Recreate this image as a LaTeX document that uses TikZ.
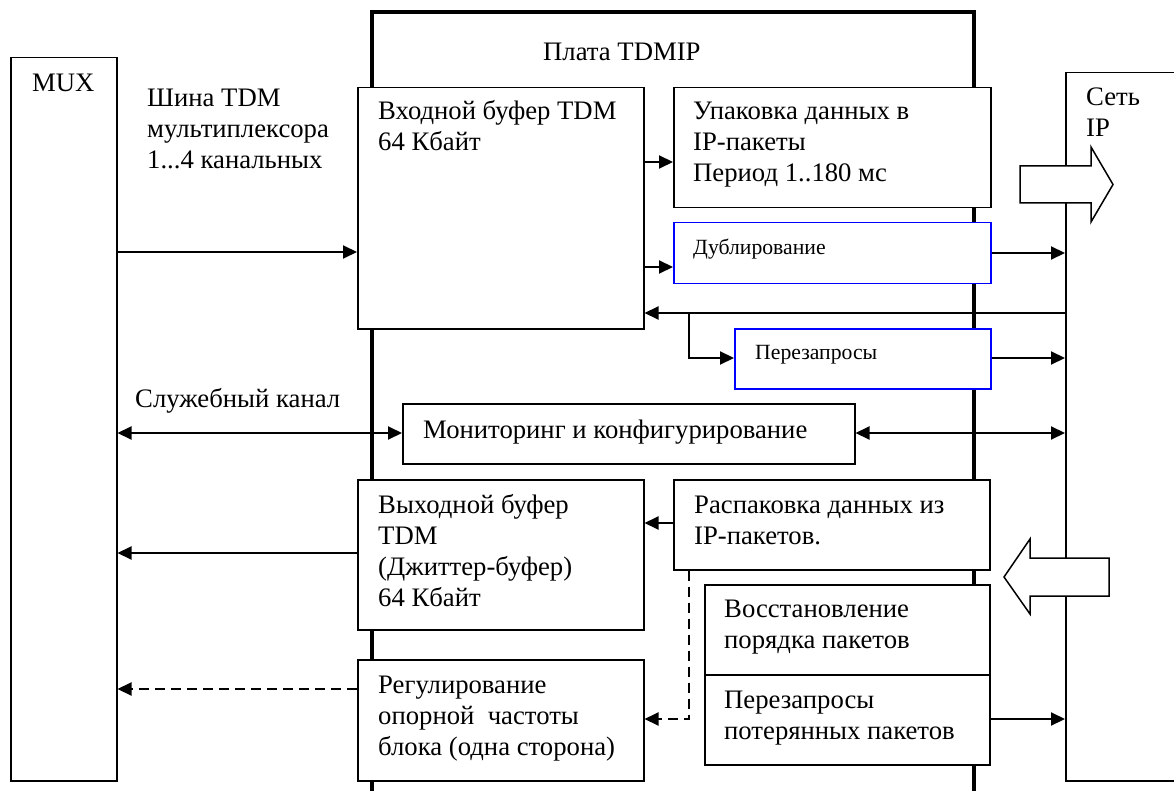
\documentclass[tikz,border=0pt]{standalone}
\usepackage{fontspec}
\setmainfont{Liberation Serif}
\usetikzlibrary{arrows.meta}
\begin{document}
\begin{tikzpicture}[x=1pt,y=-1pt,
  box/.style={draw, line width=1.5pt, fill=white, inner sep=0pt, anchor=north west},
  bbox/.style={box, draw=blue},
  txt/.style={font=\fontsize{26.7}{31}\selectfont, align=left, inner sep=0pt, anchor=base west},
  stxt/.style={font=\fontsize{21.7}{25}\selectfont, inner sep=0pt, anchor=base west},
  arr/.style={line width=2pt, -{Triangle[length=14pt,width=13pt]}},
  darr/.style={line width=2pt, {Triangle[length=14pt,width=13pt]}-{Triangle[length=14pt,width=13pt]}},
  dasharr/.style={arr, dash pattern=on 10pt off 6pt},
  board/.style={line width=4pt, line join=miter},
  hollow/.style={draw, line width=1.5pt, fill=white, line join=miter}
]
\useasboundingbox (0,0) rectangle (1174,791);
\fill[white] (0,0) rectangle (1174,791);

% TDMIP board
\draw[board] (372,791) -- (372,12) -- (974,12) -- (974,791);

% boxes
\node[box, minimum width=106pt, minimum height=723pt] (mux) at (10,57) {};
\node[box, minimum width=286pt, minimum height=241pt] (inbuf) at (357,87) {};
\node[box, minimum width=317pt, minimum height=120pt] (pack) at (673,87) {};
\node[bbox, minimum width=317pt, minimum height=61pt] (dup) at (673,222) {};
\node[bbox, minimum width=256pt, minimum height=60pt] (rq) at (734,328) {};
\node[box, minimum width=452pt, minimum height=60pt] (mon) at (402,403) {};
\node[box, minimum width=286pt, minimum height=150pt] (outbuf) at (357,479) {};
\node[box, minimum width=316pt, minimum height=90pt] (unpack) at (673,479) {};
\node[box, minimum width=285pt, minimum height=90pt] (restore1) at (704,584) {};
\node[box, minimum width=285pt, minimum height=90pt] (restore2) at (704,674) {};
\node[box, minimum width=286pt, minimum height=121pt] (reg) at (357,659) {};
\node[box, minimum width=125pt, minimum height=708pt] (net) at (1065,72) {};

% texts (anchor = baseline of the last line)
\node[txt] (muxt) at (32,92) {MUX};
\node[txt] (boardt) at (543,61) {Плата TDMIP};
\node[txt] (bust) at (147,169) {Шина TDM\\мультиплексора\\1...4 канальных};
\node[txt] (inbuft) at (378,151) {Входной буфер TDM\\64 Кбайт};
\node[txt] (packt) at (693,182) {Упаковка данных в\\IP-пакеты\\Период 1..180 мс};
\node[stxt] (dupt) at (693,255) {Дублирование};
\node[stxt] (rqt) at (755,359) {Перезапросы};
\node[txt] (mont) at (423,438) {Мониторинг и конфигурирование};
\node[txt] (servt) at (135,407) {Служебный канал};
\node[txt] (outbuft) at (378,606) {Выходной буфер\\TDM\\(Джиттер-буфер)\\64 Кбайт};
\node[txt] (unpackt) at (694,544) {Распаковка данных из\\IP-пакетов.};
\node[txt] (restore1t) at (724,648) {Восстановление\\порядка пакетов};
\node[txt] (restore2t) at (724,739) {Перезапросы\\потерянных пакетов};
\node[txt] (regt) at (378,755) {Регулирование\\опорной\ \ частоты\\блока (одна сторона)};
\node[txt] (nett) at (1086,137) {Сеть\\IP};

% connectors
\draw[arr] (mux.east |- 0,252) -- (inbuf.west |- 0,252);
\draw[arr] (inbuf.east |- 0,162) -- (pack.west |- 0,162);
\draw[arr] (inbuf.east |- 0,267) -- (dup.west |- 0,267);
\draw[arr] (dup.east |- 0,253) -- (net.west |- 0,253);
\coordinate (br) at (689,313);
\draw[arr] (net.west |- 0,313) -- (inbuf.east |- 0,313);
\draw[arr] (br) |- (rq.west |- 0,358);
\draw[arr] (rq.east |- 0,358) -- (net.west |- 0,358);
\draw[darr] (mux.east |- 0,433) -- (mon.west |- 0,433);
\draw[darr] (mon.east |- 0,433) -- (net.west |- 0,433);
\draw[arr] (outbuf.west |- 0,553) -- (mux.east |- 0,553);
\draw[arr] (unpack.west |- 0,523) -- (outbuf.east |- 0,523);
\draw[dasharr] (unpack.south -| 689,0) |- (reg.east |- 0,719);
\draw[arr] (restore2.east |- 0,719) -- (net.west |- 0,719);
\draw[dasharr] (reg.west |- 0,689) -- (mux.east |- 0,689);

% hollow block arrows
\draw[hollow] (1020,166) -- (1091,166) -- (1091,147) -- (1113,184.5) -- (1091,222) -- (1091,203) -- (1020,203) -- cycle;
\draw[hollow] (1109,558) -- (1030,558) -- (1030,539) -- (1004,577) -- (1030,614) -- (1030,596) -- (1109,596) -- cycle;
\end{tikzpicture}
\end{document}
